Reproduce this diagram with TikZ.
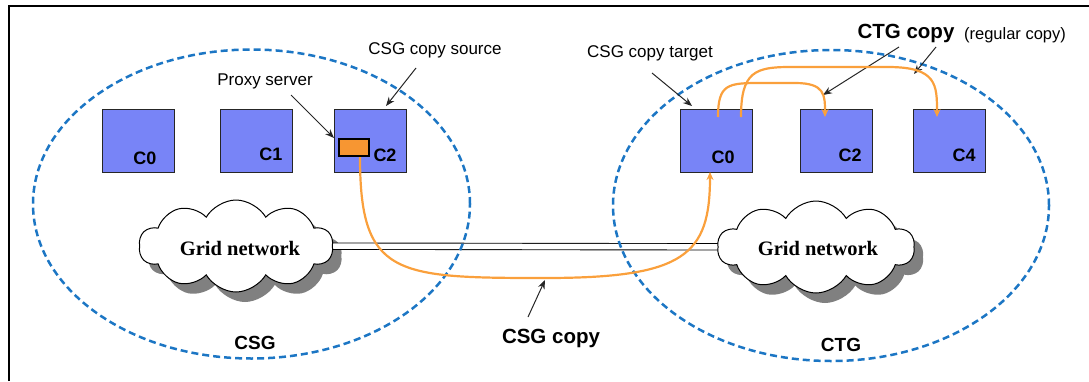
\documentclass[tikz,border=0pt]{standalone}
\usepackage{fontspec}
\setmainfont{Liberation Sans}
\newfontfamily\serifbold{Liberation Serif}
\usetikzlibrary{shapes.geometric,shapes.symbols,arrows.meta}
\pgfdeclarelayer{back}
\pgfdeclarelayer{mid}
\pgfsetlayers{back,mid,main}
\definecolor{boxblue}{RGB}{120,132,247}
\definecolor{dashblue}{RGB}{28,118,196}
\definecolor{copyorange}{RGB}{250,160,60}
\definecolor{proxyorange}{RGB}{247,150,50}
\tikzset{
  cbox/.style={draw=black!85, line width=1pt, fill=boxblue, minimum width=72pt, minimum height=63pt, inner sep=0pt},
  clab/.style={font=\fontsize{18}{20}\selectfont\bfseries, inner sep=0pt},
  lab/.style={font=\fontsize{17}{20}\selectfont, inner sep=0pt},
  grp/.style={draw=dashblue, line width=2.5pt, dash pattern=on 7pt off 4pt, ellipse, inner sep=0pt},
  grplab/.style={font=\fontsize{19}{22}\selectfont\bfseries, inner sep=0pt},
  cloudbase/.style={cloud, cloud puffs=10, cloud puff arc=120, cloud ignores aspect, minimum width=194pt, minimum height=92pt, inner sep=0pt},
  cloudn/.style={cloudbase, draw=black, line width=1pt, fill=white},
  cloudsh/.style={cloudbase, fill=black!50},
  pointer/.style={draw=black!85, line width=1pt, -{Stealth[length=9pt,width=7pt]}},
  copyline/.style={draw=copyorange, line width=2.2pt, -{Stealth[length=8pt,width=7pt]}},
}
\begin{document}
\begin{tikzpicture}[x=1pt,y=-1pt]
\useasboundingbox (0,0) rectangle (1089,381);
\draw[line width=1.5pt] (9,381) -- (9,6) -- (1089,6);

% groups
\node[grp, minimum width=437pt, minimum height=309pt] (csg) at (251.5,204) {};
\node[grp, minimum width=436pt, minimum height=311pt] (ctg) at (831,205.5) {};
\node[grplab] (csglab) at (255,343) {CSG};
\node[grplab] (ctglab) at (841,345) {CTG};

% clouds
\node[cloudn] (cloudL) at (236,246) {};
\node[cloudn, minimum width=197pt] (cloudR) at (816,247) {};
\begin{pgfonlayer}{back}
\node[cloudsh] (cloudLs) at (245,256) {};
\node[cloudsh, minimum width=197pt] (cloudRs) at (825,257) {};
\end{pgfonlayer}
\node[font=\serifbold\fontsize{20.5}{22}\selectfont\bfseries, inner sep=0pt] (gridL) at (240,248) {Grid network};
\node[font=\serifbold\fontsize{20.5}{22}\selectfont\bfseries, inner sep=0pt] (gridR) at (818,248) {Grid network};
\begin{pgfonlayer}{mid}
\draw[double=white, double distance=5.5pt, line width=0.9pt] (cloudL.center) -- (cloudR.center);
\end{pgfonlayer}

% boxes left
\node[cbox] (L0) at (138,140.5) {};
\node[cbox] (L1) at (256.5,140.5) {};
\node[cbox] (L2) at (370.5,140.5) {};
\node[clab] (L0t) at (145,158) {C0};
\node[clab] (L1t) at (271,154) {C1};
\node[clab] (L2t) at (385,155) {C2};
\node[draw=black, line width=2pt, fill=proxyorange, minimum width=30pt, minimum height=17pt, inner sep=0pt] (proxy) at (353.5,147) {};

% boxes right
\node[cbox] (R0) at (716,140.5) {};
\node[cbox] (R2) at (836,140.5) {};
\node[cbox] (R4) at (949,140.5) {};
\node[clab] (R0t) at (723,157) {C0};
\node[clab] (R2t) at (850,155) {C2};
\node[clab] (R4t) at (964,155) {C4};

% labels
\node[lab] (proxylab) at (265,81) {Proxy server};
\node[lab] (srclab) at (435,50) {CSG copy source};
\node[lab] (tgtlab) at (650,53) {CSG copy target};
\node[font=\fontsize{20.5}{22}\selectfont\bfseries, inner sep=0pt] (ctgcopy) at (906,33) {CTG copy};
\node[font=\fontsize{16.5}{18}\selectfont, inner sep=0pt] (regular) at (1015,35) {(regular copy)};
\node[font=\fontsize{20.5}{22}\selectfont\bfseries, inner sep=0pt] (csgcopy) at (551,338) {CSG copy};

% pointer coordinates
\coordinate (p1s) at (291,95);
\coordinate (p1e) at (334,138);
\coordinate (p2s) at (416,68);
\coordinate (p2e) at (386,106);
\coordinate (p3s) at (652,73);
\coordinate (p3e) at (692,106);
\coordinate (p4s) at (899,47);
\coordinate (p4e) at (823,95);
\coordinate (p5s) at (936,47);
\coordinate (p5e) at (914,74);
\coordinate (p6s) at (528,317);
\coordinate (p6e) at (545,280);
\draw[pointer] (p1s) -- (p1e);
\draw[pointer] (p2s) -- (p2e);
\draw[pointer] (p3s) -- (p3e);
\draw[pointer] (p4s) -- (p4e);
\draw[pointer] (p5s) -- (p5e);
\draw[pointer] (p6s) -- (p6e);

% copy paths
\coordinate (csgS) at (360,157);
\coordinate (csgM) at (545,278);
\coordinate (csgE) at (710,172);
\draw[copyline] (csgS) .. controls (360,276) and (395,278) .. (csgM) .. controls (685,278) and (710,255) .. (csgE);

\coordinate (c1S) at (718,117);
\coordinate (c1E) at (825,117);
\draw[copyline] (c1S) .. controls (718,84) and (728,83) .. (760,83) -- (795,83) .. controls (825,83) and (825,95) .. (c1E);
\coordinate (c2S) at (741,117);
\coordinate (c2E) at (937,117);
\draw[copyline] (c2S) .. controls (741,72) and (755,67) .. (790,67) -- (888,67) .. controls (937,67) and (937,85) .. (c2E);
\end{tikzpicture}
\end{document}
